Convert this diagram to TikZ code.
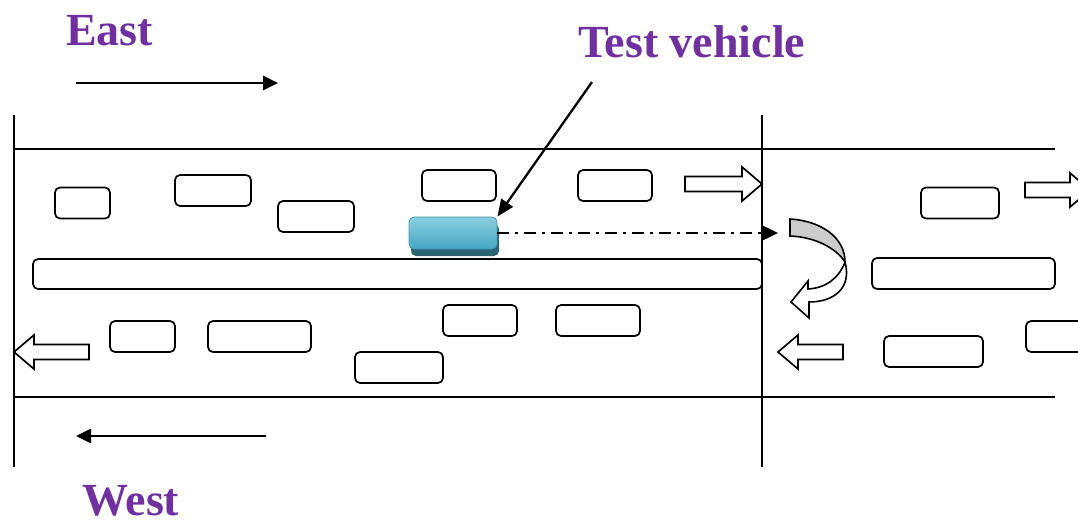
\documentclass[tikz,border=0pt]{standalone}
\usepackage{fontspec}
\setmainfont{Liberation Serif}
\usetikzlibrary{arrows.meta,shadows}

\definecolor{purp}{RGB}{112,48,160}
\definecolor{tvlight}{RGB}{140,208,224}
\definecolor{tvmid}{RGB}{68,166,194}
\definecolor{tvdark}{RGB}{42,100,116}
\definecolor{tvedge}{RGB}{70,150,175}

\tikzset{
  road/.style={line width=2pt},
  car/.style={draw, rounded corners=5pt, line width=1.7pt, inner sep=0pt, minimum height=31pt},
  dir/.style={line width=2.8pt, -{Triangle[length=15pt,width=14pt]}},
  ptr/.style={line width=2.3pt, -{Triangle[length=17pt,width=14pt]}},
  dashdot/.style={line width=2.4pt, dash pattern=on 12pt off 6pt on 3pt off 6pt, -{Triangle[length=16pt,width=15pt]}},
  lbl/.style={font=\bfseries\fontsize{46}{56}\selectfont, text=purp, inner sep=0pt},
  lanearrow/.style={fill=white, draw, line width=1.7pt, line join=miter},
  pics/blockarrow/.style={code={
    \draw[lanearrow] (0,-7.5) -- ({#1-20},-7.5) -- ({#1-20},-17) -- (#1,0)
      -- ({#1-20},17) -- ({#1-20},7.5) -- (0,7.5) -- cycle;}}
}

\begin{document}
\begin{tikzpicture}[x=1pt, y=-1pt]
    \useasboundingbox (0,0) rectangle (1078,524);
    \clip (0,0) rectangle (1078,524);

    \node[lbl, anchor=base west] (east) at (66,46) {East};
    \node[lbl, anchor=base west] (west) at (82,515) {West};
    \node[lbl, anchor=base west] (test) at (578,58) {Test vehicle};

    \coordinate (e1) at (76,83);
    \coordinate (e2) at (278,83);
    \coordinate (w1) at (266,436);
    \coordinate (w2) at (76,436);
    \draw[dir] (e1) -- (e2);
    \draw[dir] (w1) -- (w2);

    \draw[road] (14,115) -- (14,467);
    \draw[road] (762,115) -- (762,467);
    \draw[road] (14,149) -- (1055,149);
    \draw[road] (14,397) -- (1055,397);

    \node[car, minimum width=55pt] (c1) at (82.5,203) {};
    \node[car, minimum width=76pt] (c2) at (213,190.5) {};
    \node[car, minimum width=76pt] (c3) at (316,216.5) {};
    \node[car, minimum width=74pt] (c4) at (459,185.5) {};
    \node[car, minimum width=74pt] (c5) at (615,185.5) {};
    \node[car, minimum width=78pt] (c6) at (960,203) {};

    \node[car, minimum width=729pt, minimum height=30pt] (m1) at (397.5,274) {};
    \node[car, minimum width=183pt] (m2) at (963.5,273.5) {};

    \node[car, minimum width=65pt] (c7) at (142.5,336.5) {};
    \node[car, minimum width=103pt] (c8) at (259.5,336.5) {};
    \node[car, minimum width=74pt] (c9) at (480,320.5) {};
    \node[car, minimum width=84pt] (c10) at (598,320.5) {};
    \node[car, minimum width=88pt] (c11) at (399,367.5) {};
    \node[car, minimum width=99pt] (c12) at (933.5,351.5) {};
    \node[car, minimum width=74pt] (c13) at (1063,336.5) {};

    \pic at (685,184) {blockarrow=77};
    \pic at (1025,190) {blockarrow=65};
    \pic[xscale=-1] at (89,352) {blockarrow=75};
    \pic[xscale=-1] at (843,352) {blockarrow=65};

    \node[rounded corners=5pt, draw=tvedge, line width=0.8pt, top color=tvlight, bottom color=tvmid,
          minimum width=88pt, minimum height=32pt, inner sep=0pt,
          drop shadow={shadow xshift=2pt, shadow yshift=-7pt, fill=tvdark, opacity=1}] (tv) at (453,233) {};

    \coordinate (lbl) at (592,82);
    \coordinate (uturn) at (778,233);
    \draw[ptr] (lbl) -- (tv.north east);
    \draw[dashdot] (tv.east) -- (uturn);

    \draw[line width=1.6pt, fill=white, line join=miter]
      (845,262) .. controls (852,288) and (834,302) .. (809,302)
      -- (809,318) -- (791,302) -- (808,281) -- (808,289)
      .. controls (826,288) and (839,278) .. (845,262);
    \draw[line width=1.6pt, fill=black!20, line join=miter]
      (790,219) .. controls (822,221) and (845,238) .. (845,262)
      .. controls (836,248) and (815,237) .. (790,236) -- cycle;
\end{tikzpicture}
\end{document}
